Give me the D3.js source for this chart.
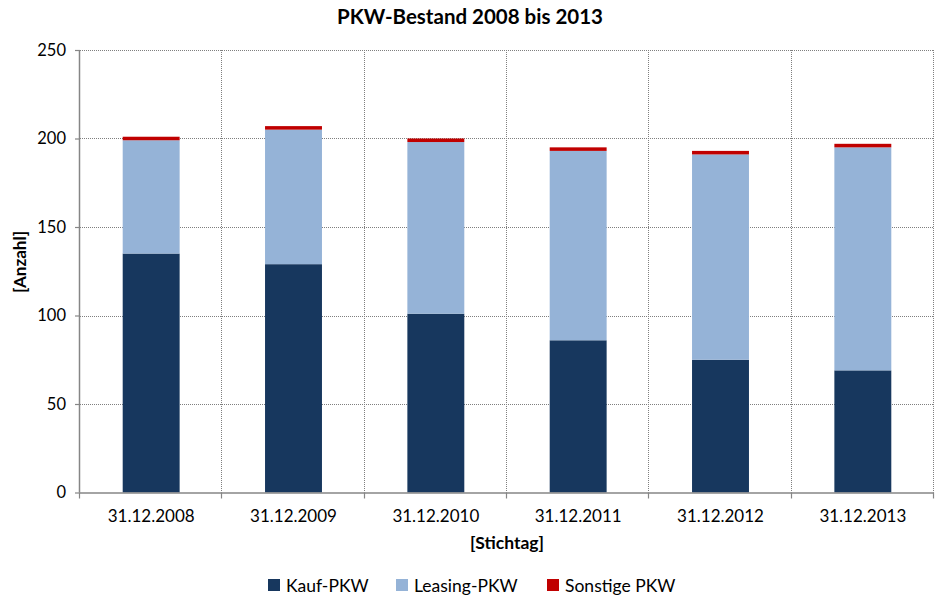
<!DOCTYPE html>
<html>
<head>
<meta charset="utf-8">
<script src="https://cdn.jsdelivr.net/npm/d3@7"></script>
<style>
  html, body { margin: 0; padding: 0; background: #fff; }
  svg { display: block; font-family: Lato, "Open Sans", sans-serif; }
</style>
</head>
<body>
<svg id="chart" width="936" height="598"></svg>
<script>
// Fahrzeugbestand je Stichtag
const categories = ["31.12.2008", "31.12.2009", "31.12.2010", "31.12.2011", "31.12.2012", "31.12.2013"];
const kaufPKW     = [135, 129, 101, 86, 75, 69];
const leasingPKW  = [64, 76, 97, 107, 116, 126];
const sonstigePKW = [2, 2, 2, 2, 2, 2];
const seriesNames = ["Kauf-PKW", "Leasing-PKW", "Sonstige PKW"];
const seriesColors = ["#17375E", "#95B3D7", "#C00000"];
const yTicks = [0, 50, 100, 150, 200, 250];

const svg = d3.select("#chart");
const margin = { top: 50, right: 2, bottom: 105.5, left: 80 };
const W = 936, H = 598;
const innerW = W - margin.left - margin.right;
const innerH = H - margin.top - margin.bottom;

const rows = categories.map((c, i) => ({
  cat: c,
  "Kauf-PKW": kaufPKW[i],
  "Leasing-PKW": leasingPKW[i],
  "Sonstige PKW": sonstigePKW[i]
}));
const stacked = d3.stack().keys(seriesNames)(rows);

const x = d3.scaleBand().domain(categories).range([0, innerW]).paddingInner(0).paddingOuter(0);
const y = d3.scaleLinear().domain([0, 250]).range([innerH, 0]);
const color = d3.scaleOrdinal().domain(seriesNames).range(seriesColors);

const g = svg.append("g").attr("transform", `translate(${margin.left},${margin.top})`);

// Gitterlinien (gepunktet)
const gridColor = "#7f7f7f";
g.append("g").selectAll("line.hgrid").data(yTicks.filter(d => d > 0)).join("line")
  .attr("x1", 0).attr("x2", innerW)
  .attr("y1", d => Math.round(y(d)) + 0.5).attr("y2", d => Math.round(y(d)) + 0.5)
  .attr("stroke", gridColor).attr("stroke-width", 1).attr("stroke-dasharray", "1,1");
const bounds = categories.map(c => x(c) + x.bandwidth());
g.append("g").selectAll("line.vgrid").data(bounds).join("line")
  .attr("x1", d => Math.round(d) - 0.5).attr("x2", d => Math.round(d) - 0.5)
  .attr("y1", 0).attr("y2", innerH)
  .attr("stroke", gridColor).attr("stroke-width", 1).attr("stroke-dasharray", "1,1");

// Gestapelte Säulen
const barW = x.bandwidth() * 0.4;
g.append("g").selectAll("g.series").data(stacked).join("g")
  .attr("fill", d => color(d.key))
  .selectAll("rect").data(d => d).join("rect")
  .attr("x", d => x(d.data.cat) + (x.bandwidth() - barW) / 2)
  .attr("width", barW)
  .attr("y", d => y(d[1]))
  .attr("height", d => y(d[0]) - y(d[1]));

// Achsen
const axisColor = "#868686";
const yAxis = g.append("g")
  .call(d3.axisLeft(y).tickValues(yTicks).tickSize(5).tickPadding(9).tickFormat(d3.format("d")));
yAxis.select(".domain").attr("stroke", axisColor).attr("stroke-width", 1.5).attr("d", `M-0.5,0V${innerH}`);
yAxis.selectAll(".tick line").attr("stroke", axisColor).attr("stroke-width", 1.2);
yAxis.selectAll(".tick text").attr("font-size", 16.5).attr("fill", "#000").attr("font-family", "Lato, sans-serif");

const xAxis = g.append("g").attr("transform", `translate(0,${innerH})`)
  .call(d3.axisBottom(x).tickSize(0).tickPadding(17));
xAxis.select(".domain").attr("stroke", axisColor).attr("stroke-width", 1.5).attr("d", `M0,0.5H${innerW}`);
xAxis.selectAll(".tick text").attr("font-size", 17).attr("fill", "#000").attr("font-family", "Lato, sans-serif");
// Teilstriche an den Kategoriegrenzen
g.append("g").selectAll("line.xtick").data([0, ...bounds]).join("line")
  .attr("x1", d => Math.round(d) - 0.5).attr("x2", d => Math.round(d) - 0.5)
  .attr("y1", innerH).attr("y2", innerH + 6)
  .attr("stroke", axisColor).attr("stroke-width", 1.2);

// Titel
svg.append("text").attr("x", 470).attr("y", 24).attr("text-anchor", "middle")
  .attr("font-size", 20.5).attr("font-weight", "bold").text("PKW-Bestand 2008 bis 2013");

svg.append("text").attr("x", margin.left + innerW / 2).attr("y", 549).attr("text-anchor", "middle")
  .attr("font-size", 17.5).attr("font-weight", "bold").text("[Stichtag]");

svg.append("text").attr("transform", "translate(26,262) rotate(-90)").attr("text-anchor", "middle")
  .attr("font-size", 17).attr("font-weight", "bold").text("[Anzahl]");

// Legende
const legendX = [268, 396, 547];
const legend = svg.append("g").selectAll("g").data(seriesNames).join("g")
  .attr("transform", (d, i) => `translate(${legendX[i]},579)`);
legend.append("rect").attr("width", 12).attr("height", 12).attr("fill", d => color(d));
legend.append("text").attr("x", 18).attr("y", 12.5).attr("font-size", 17.5).text(d => d);
</script>
</body>
</html>
